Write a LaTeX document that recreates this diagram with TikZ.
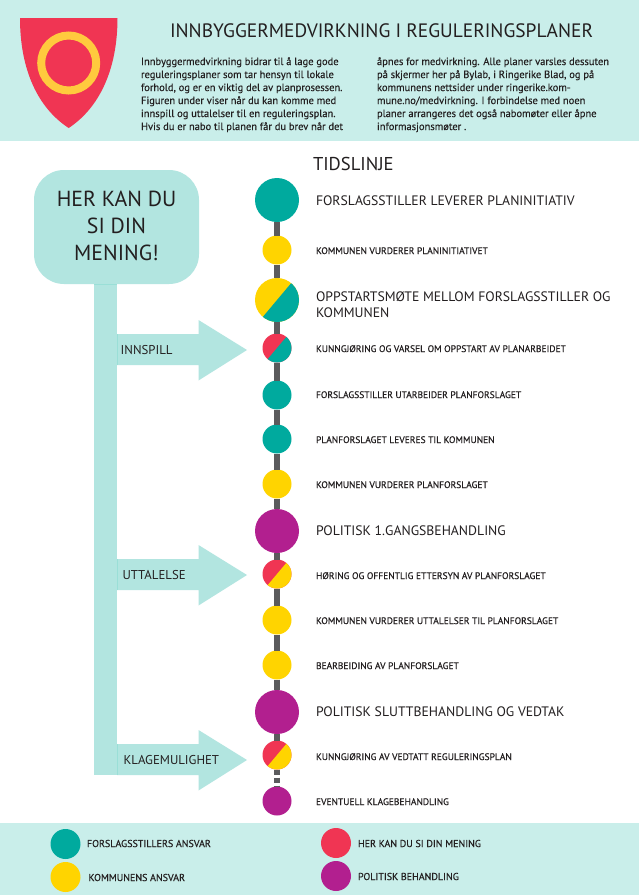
\documentclass[tikz,border=0pt]{standalone}
\usepackage{fontspec}
\setmainfont{PT Sans}
\newfontfamily\semi[RawFeature={embolden=0.35}]{PT Sans}
\definecolor{band}{HTML}{C9EEEA}
\definecolor{aqua}{HTML}{B2E5E0}
\definecolor{seam}{HTML}{9ADFD7}
\definecolor{teal}{HTML}{00AA9E}
\definecolor{gold}{HTML}{FFD400}
\definecolor{ringc}{HTML}{FFCA3E}
\definecolor{rose}{HTML}{F03553}
\definecolor{plum}{HTML}{B21F8F}
\definecolor{spine}{HTML}{5B5B5D}
\definecolor{ink}{HTML}{231F20}
\newcommand{\fs}[1]{\fontsize{#1}{#1}\selectfont}
\usetikzlibrary{shapes.geometric}
\tikzset{
  x=1pt,y=-1pt,
  txt/.style={anchor=base west,inner sep=0pt,outer sep=0pt,text=ink},
  big/.style={txt,font=\fs{13.7}},
  small/.style={txt,font=\semi\fs{9.5}},
  body/.style={txt,font=\semi\fs{10.5}},
  leg/.style={txt,font=\semi\fs{10}},
  side/.style={txt,font=\fs{12.8}},
  bigdot/.style={circle,inner sep=0pt,minimum size=44pt,outer sep=0pt},
  dot/.style={circle,inner sep=0pt,minimum size=29pt,outer sep=0pt},
  plain/.style={fill=#1},
  split/.style 2 args={fill=#1,path picture={
    \fill[#2] (path picture bounding box.center) ++(50:40pt) -- ++(230:80pt) -- ++(-40:40pt) -- ++(50:80pt) -- cycle;}},
  spineline/.style={draw=spine,line width=6pt},
  bubble/.style={fill=aqua,rounded corners=30pt},
  leftarrow/.style={fill=aqua},
  legdot/.style={circle,inner sep=0pt,minimum size=30pt,outer sep=0pt},
}
\begin{document}
\begin{tikzpicture}
\useasboundingbox (0,0) rectangle (639,895);
\fill[white] (0,0) rectangle (639,895);
\fill[band] (0,0) rectangle (639,141);
\fill[band] (0,823) rectangle (639,895);
% shield
\fill[rose] (20,18) -- (117.5,18) .. controls (117.5,70) and (99,108) .. (68.7,128) .. controls (38,108) and (20,70) .. cycle;
\draw[draw=ringc,line width=8pt] (68.7,63) circle (27.5);
% header
\node[txt,font=\fs{19.4}] (title) at (170,37) {INNBYGGERMEDVIRKNING I REGULERINGSPLANER};
\foreach \n/\y/\t in {a/65/{Innbyggermedvirkning bidrar til å lage gode},b/78/{reguleringsplaner som tar hensyn til lokale},c/91/{forhold, og er en viktig del av planprosessen.},d/104/{Figuren under viser når du kan komme med},e/117/{innspill og uttalelser til en reguleringsplan.},f/130/{Hvis du er nabo til planen får du brev når det}}
  \node[body] (l\n) at (141,\y) {\t};
\foreach \n/\y/\t in {a/65/{åpnes for medvirkning. Alle planer varsles dessuten},b/78/{på skjermer her på Bylab, i Ringerike Blad, og på},c/91/{kommunens nettsider under ringerike.kom-},d/104/{mune.no/medvirkning. I forbindelse med noen},e/117/{planer arrangeres det også nabomøter eller åpne},f/130/{informasjonsmøter .}}
  \node[body] (r\n) at (377,\y) {\t};
\node[txt,font=\fs{18.6}] (tid) at (313,170) {TIDSLINJE};
% left side
\fill[aqua] (94,270) rectangle (117,775);
\fill[bubble] (34,170) rectangle (199,284);
\draw[seam,line width=.5pt] (94,284) -- (117,284);
\node[align=center,font=\fs{21.8},text=ink,inner sep=0pt] (hk) at (116.5,226) {HER KAN DU\\[5.2pt]SI DIN\\[5.2pt]MENING!};
\foreach \n/\t/\tx/\ty in {a/INNSPILL/120.7/350,b/UTTALELSE/122.5/575,c/KLAGEMULIGHET/123.5/760}{
  \pgfmathsetmacro{\yy}{\ty}
  \fill[leftarrow] (117,\yy-16) -- (198.5,\yy-16) -- (198.5,\yy-30) -- (247,\yy) -- (198.5,\yy+30.5) -- (198.5,\yy+15) -- (117,\yy+15) -- cycle;
  \draw[seam,line width=.5pt] (117,\yy-16) -- (117,\yy+15);
  \node[side] (arr\n) at (\tx,\yy+4.7) {\t};
}
% timeline
\node[bigdot,plain=teal] (n1) at (277,200) {};
\node[dot,plain=gold] (n2) at (277,250) {};
\node[bigdot,split={gold}{teal}] (n3) at (277,300) {};
\node[dot,split={rose}{teal}] (n4) at (277,348) {};
\node[dot,plain=teal] (n5) at (277,395) {};
\node[dot,plain=teal] (n6) at (277,439) {};
\node[dot,plain=gold] (n7) at (277,484) {};
\node[bigdot,plain=plum] (n8) at (277,531) {};
\node[dot,split={rose}{gold}] (n9) at (277,574) {};
\node[dot,plain=gold] (n10) at (277,620) {};
\node[dot,plain=gold] (n11) at (277,665) {};
\node[bigdot,plain=plum] (n12) at (277,712) {};
\node[dot,split={rose}{gold}] (n13) at (277,755) {};
\node[dot,plain=plum] (n14) at (277,801) {};
\foreach \a/\b in {n1/n2,n2/n3,n3/n4,n4/n5,n5/n6,n6/n7,n7/n8,n8/n9,n9/n10,n10/n11,n11/n12,n12/n13}
  \draw[spineline] (\a) -- (\b);
\draw[spineline,dash pattern=on 5pt off 3pt] (n13.south) -- (n14.north);
% labels
\node[big] (t1) at (316,205) {FORSLAGSSTILLER LEVERER PLANINITIATIV};
\node[small] (t2) at (316,254) {KOMMUNEN VURDERER PLANINITIATIVET};
\node[big] (t3a) at (316,301.5) {OPPSTARTSMØTE MELLOM FORSLAGSSTILLER OG};
\node[big] (t3b) at (316,317) {KOMMUNEN};
\node[small] (t4) at (316,352) {KUNNGJØRING OG VARSEL OM OPPSTART AV PLANARBEIDET};
\node[small] (t5) at (316,398) {FORSLAGSSTILLER UTARBEIDER PLANFORSLAGET};
\node[small] (t6) at (316,443) {PLANFORSLAGET LEVERES TIL KOMMUNEN};
\node[small] (t7) at (316,488) {KOMMUNEN VURDERER PLANFORSLAGET};
\node[big] (t8) at (316,535) {POLITISK 1.GANGSBEHANDLING};
\node[small] (t9) at (316,579) {HØRING OG OFFENTLIG ETTERSYN AV PLANFORSLAGET};
\node[small] (t10) at (316,624) {KOMMUNEN VURDERER UTTALELSER TIL PLANFORSLAGET};
\node[small] (t11) at (316,669) {BEARBEIDING AV PLANFORSLAGET};
\node[big] (t12) at (316,716) {POLITISK SLUTTBEHANDLING OG VEDTAK};
\node[small] (t13) at (316,760) {KUNNGJØRING AV VEDTATT REGULERINGSPLAN};
\node[small] (t14) at (316,805) {EVENTUELL KLAGEBEHANDLING};
% legend
\node[legdot,fill=teal] (k1) at (65.5,844) {};
\node[legdot,fill=gold] (k2) at (65.5,877) {};
\node[legdot,fill=rose] (k3) at (336,843) {};
\node[legdot,fill=plum] (k4) at (336,876) {};
\node[leg] (kt1) at (87,847) {FORSLAGSSTILLERS ANSVAR};
\node[leg] (kt2) at (88.5,881) {KOMMUNENS ANSVAR};
\node[leg] (kt3) at (358,847) {HER KAN DU SI DIN MENING};
\node[leg] (kt4) at (358,880) {POLITISK BEHANDLING};
\end{tikzpicture}
\end{document}
